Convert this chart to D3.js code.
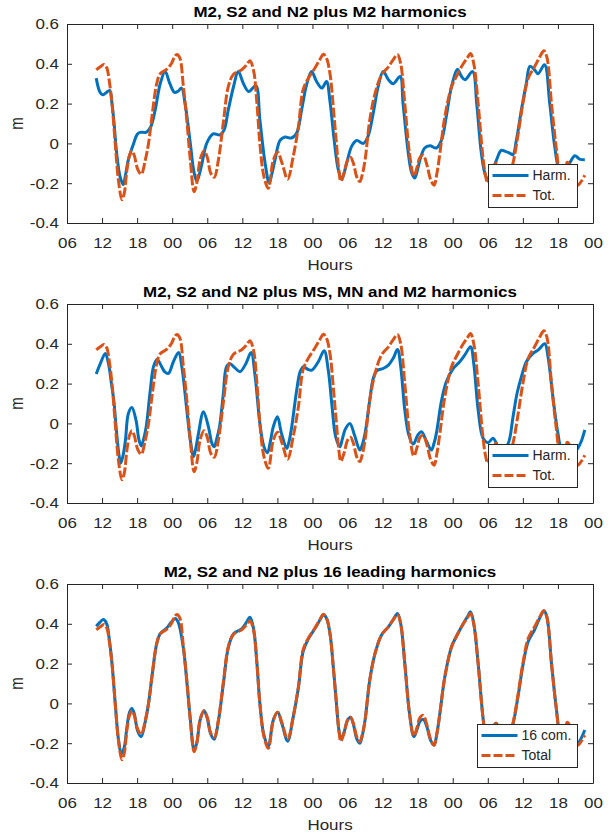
<!DOCTYPE html>
<html>
<head>
<meta charset="utf-8">
<script src="https://cdn.jsdelivr.net/npm/d3@7"></script>
<style>
  body { margin: 0; background: #fff; }
  svg text { font-family: 'Liberation Sans', Arial, Helvetica, sans-serif; fill: #262626; }
  text.title { font-weight: bold; fill: #000; }
</style>
</head>
<body>
<script>
// Hours are counted from 06:00 on the first day shown on the axis.
const startTime = new Date(2000, 0, 1, 6);
const spanHours = 90;
const yTicks = [-0.4, -0.2, 0, 0.2, 0.4, 0.6];

const titles = [
  'M2, S2 and N2 plus M2 harmonics',
  'M2, S2 and N2 plus MS, MN and M2 harmonics',
  'M2, S2 and N2 plus 16 leading harmonics'
];
const harmLabels  = ['Harm.', 'Harm.', '16 com.'];
const totalLabels = ['Tot.', 'Tot.', 'Total'];

// [hour, metres]
const total = [
  [5.0, 0.37], [5.7, 0.385], [6.3, 0.397], [6.8, 0.38], [7.2, 0.32], [7.7, 0.2], [8.25, 0.0],
  [8.8, -0.185], [9.4, -0.283], [9.8, -0.25], [10.25, -0.134], [10.7, -0.06], [11.1, -0.037],
  [11.5, -0.06], [12.1, -0.13], [12.7, -0.155], [13.4, -0.084], [13.95, 0.0], [14.6, 0.15],
  [15.35, 0.30], [15.95, 0.35], [17.1, 0.373], [17.9, 0.403], [18.4, 0.435], [18.8, 0.447],
  [19.3, 0.43], [19.9, 0.29], [20.5, 0.117], [21.1, -0.084], [21.75, -0.243], [22.2, -0.2],
  [22.8, -0.08], [23.45, -0.037], [24.0, -0.07], [24.6, -0.15], [25.2, -0.17], [25.9, -0.084],
  [26.8, 0.117], [27.6, 0.285], [28.5, 0.348], [29.9, 0.37], [30.75, 0.395], [31.3, 0.415],
  [31.9, 0.37], [32.5, 0.2], [33.0, 0.0], [33.7, -0.167], [34.45, -0.226], [35.3, -0.084],
  [36.05, -0.045], [36.8, -0.1], [37.75, -0.18], [38.7, -0.067], [39.6, 0.085], [40.4, 0.27],
  [41.3, 0.328], [42.4, 0.378], [43.3, 0.423], [43.85, 0.448], [44.4, 0.428], [45.0, 0.35],
  [45.6, 0.17], [46.1, 0.0], [46.5, -0.13], [46.85, -0.19], [47.4, -0.15], [48.0, -0.085],
  [48.5, -0.07], [49.0, -0.1], [49.6, -0.17], [50.1, -0.192], [50.5, -0.16], [51.0, -0.084],
  [51.8, 0.117], [52.7, 0.25], [53.8, 0.343], [55.0, 0.385], [55.8, 0.42], [56.55, 0.447],
  [57.1, 0.40], [57.8, 0.2], [58.6, -0.05], [59.35, -0.164], [59.9, -0.12], [60.4, -0.07],
  [60.95, -0.06], [61.6, -0.11], [62.2, -0.18], [62.8, -0.21], [63.3, -0.15], [63.8, -0.05],
  [64.65, 0.134], [65.8, 0.285], [66.6, 0.335], [67.8, 0.40], [68.5, 0.43], [69.05, 0.452],
  [69.6, 0.40], [70.35, 0.2], [71.1, -0.05], [71.6, -0.16], [72.0, -0.2], [72.7, -0.14],
  [73.4, -0.1], [74.2, -0.14], [75.1, -0.2], [75.6, -0.16], [76.3, -0.1], [77.2, 0.05],
  [78.0, 0.2], [78.9, 0.326], [80.0, 0.385], [80.9, 0.435], [81.6, 0.465], [82.1, 0.435],
  [82.9, 0.2], [83.7, -0.02], [84.6, -0.2], [85.6, -0.095], [86.3, -0.13], [87.4, -0.21],
  [87.9, -0.195], [88.6, -0.16]
];

const harmM2 = [
  [5.0, 0.328], [5.6, 0.26], [6.1, 0.244], [6.7, 0.255], [7.3, 0.266], [7.7, 0.2], [8.0, 0.119],
  [8.5, -0.049], [9.1, -0.17], [9.65, -0.207], [10.0, -0.16], [10.5, -0.082], [11.4, 0.0],
  [12.0, 0.045], [12.5, 0.055], [13.6, 0.057], [14.35, 0.085], [15.1, 0.17], [15.95, 0.30],
  [16.8, 0.361], [17.6, 0.30], [18.4, 0.256], [19.0, 0.262], [19.6, 0.278], [20.2, 0.2],
  [21.1, 0.0], [21.7, -0.14], [22.2, -0.19], [22.6, -0.16], [23.1, -0.1], [23.9, 0.0],
  [25.0, 0.048], [26.2, 0.043], [26.9, 0.069], [27.6, 0.169], [28.5, 0.286], [29.3, 0.361],
  [30.2, 0.3], [31.1, 0.261], [32.3, 0.29], [33.0, 0.119], [33.9, -0.1], [34.6, -0.2],
  [35.0, -0.16], [35.6, -0.082], [36.45, 0.015], [37.3, 0.032], [38.4, 0.027], [39.3, 0.052],
  [40.15, 0.169], [41.0, 0.295], [41.85, 0.361], [42.7, 0.311], [43.6, 0.278], [44.4, 0.311],
  [45.0, 0.21], [45.7, 0.02], [46.4, -0.13], [47.0, -0.182], [47.4, -0.15], [47.85, -0.1],
  [48.7, -0.015], [49.55, 0.015], [50.7, 0.0], [51.5, 0.035], [52.4, 0.152], [53.25, 0.286],
  [54.1, 0.361], [55.0, 0.32], [55.8, 0.30], [57.0, 0.336], [57.5, 0.2], [58.4, -0.05],
  [59.0, -0.15], [59.5, -0.174], [60.0, -0.13], [60.4, -0.082], [61.2, -0.023], [62.1, -0.012],
  [63.2, -0.023], [64.1, 0.018], [64.9, 0.136], [65.8, 0.286], [66.8, 0.373], [67.5, 0.336],
  [68.1, 0.32], [69.4, 0.361], [70.1, 0.2], [70.9, -0.05], [71.6, -0.16], [72.3, -0.19],
  [72.8, -0.14], [73.5, -0.082], [74.3, -0.035], [75.0, -0.04], [75.8, -0.05], [76.3, -0.057],
  [76.9, 0.018], [77.75, 0.169], [78.6, 0.303], [79.2, 0.387], [80.0, 0.37], [80.6, 0.35],
  [81.7, 0.395], [82.6, 0.2], [83.45, -0.015], [84.2, -0.13], [85.0, -0.15], [85.8, -0.11],
  [86.9, -0.062], [87.7, -0.079], [88.6, -0.082]
];

const harmMsMn = [
  [5.0, 0.248], [5.7, 0.30], [6.55, 0.351], [7.1, 0.30], [7.6, 0.2], [8.0, 0.117], [8.5, -0.05],
  [8.9, -0.16], [9.2, -0.2], [9.6, -0.16], [10.0, -0.084], [10.5, 0.05], [11.1, 0.08],
  [11.8, 0.017], [12.3, -0.08], [12.7, -0.114], [13.1, -0.08], [13.55, -0.017], [14.25, 0.167],
  [14.8, 0.285], [15.4, 0.321], [16.2, 0.285], [16.7, 0.26], [17.35, 0.251], [18.2, 0.31],
  [19.1, 0.356], [19.65, 0.285], [20.5, 0.067], [21.1, -0.084], [21.65, -0.167], [22.0, -0.13],
  [22.5, -0.05], [23.35, 0.059], [24.2, -0.017], [24.8, -0.1], [25.2, -0.117], [25.6, -0.08],
  [26.1, -0.017], [26.75, 0.15], [27.3, 0.285], [27.9, 0.30], [28.7, 0.28], [29.6, 0.26],
  [30.6, 0.3], [31.5, 0.356], [32.2, 0.234], [33.0, 0.0], [33.7, -0.117], [34.3, -0.147],
  [34.8, -0.09], [35.3, -0.017], [36.0, 0.033], [36.7, -0.05], [37.6, -0.126], [38.0, -0.09],
  [38.45, -0.017], [39.3, 0.167], [39.9, 0.26], [40.45, 0.285], [41.2, 0.272], [41.9, 0.268],
  [43.0, 0.31], [44.0, 0.365], [44.7, 0.268], [45.3, 0.1], [45.85, -0.05], [46.2, -0.09],
  [46.7, -0.117], [47.1, -0.08], [47.6, -0.03], [48.4, 0.0], [49.2, -0.06], [50.1, -0.134],
  [50.5, -0.11], [51.0, -0.05], [51.8, 0.117], [52.4, 0.226], [53.0, 0.264], [54.1, 0.276],
  [55.0, 0.293], [55.8, 0.326], [56.55, 0.371], [57.1, 0.285], [57.8, 0.067], [58.5, -0.06],
  [59.25, -0.104], [60.0, -0.06], [60.65, -0.042], [61.5, -0.09], [62.35, -0.134], [62.8, -0.1],
  [63.2, -0.05], [64.1, 0.117], [64.9, 0.209], [66.1, 0.276], [67.2, 0.31], [68.05, 0.343],
  [69.05, 0.385], [69.6, 0.30], [70.35, 0.067], [71.2, -0.075], [72.05, -0.097], [72.9, -0.075],
  [73.8, -0.117], [74.6, -0.13], [75.5, -0.1], [76.3, 0.03], [77.0, 0.15], [77.8, 0.24],
  [78.6, 0.31], [79.7, 0.351], [80.6, 0.368], [81.75, 0.40], [82.3, 0.335], [83.2, 0.117],
  [84.0, -0.05], [84.6, -0.13], [85.5, -0.155], [86.5, -0.15], [87.4, -0.125], [88.0, -0.09],
  [88.6, -0.033]
];

const harm16 = [
  [5.0, 0.388], [5.7, 0.41], [6.25, 0.422], [6.8, 0.40], [7.2, 0.33], [7.7, 0.2], [8.25, 0.0],
  [8.8, -0.18], [9.3, -0.254], [9.8, -0.22], [10.25, -0.12], [10.7, -0.045], [11.1, -0.025],
  [11.5, -0.05], [12.1, -0.14], [12.7, -0.167], [13.4, -0.09], [13.95, 0.0], [14.6, 0.15],
  [15.35, 0.30], [15.95, 0.35], [17.1, 0.38], [17.9, 0.41], [18.5, 0.427], [19.0, 0.41],
  [19.9, 0.28], [20.5, 0.11], [21.1, -0.08], [21.75, -0.234], [22.2, -0.2], [22.8, -0.08],
  [23.45, -0.037], [24.0, -0.075], [24.6, -0.155], [25.2, -0.18], [25.9, -0.09], [26.8, 0.11],
  [27.6, 0.28], [28.5, 0.35], [29.9, 0.375], [30.75, 0.41], [31.3, 0.433], [31.9, 0.38],
  [32.5, 0.2], [33.0, 0.0], [33.7, -0.16], [34.45, -0.214], [35.3, -0.084], [36.05, -0.045],
  [36.8, -0.105], [37.75, -0.19], [38.7, -0.07], [39.6, 0.08], [40.4, 0.26], [41.3, 0.325],
  [42.4, 0.375], [43.3, 0.42], [43.85, 0.445], [44.4, 0.428], [45.0, 0.35], [45.6, 0.17],
  [46.1, 0.0], [46.5, -0.13], [46.85, -0.18], [47.4, -0.145], [48.0, -0.085], [48.5, -0.07],
  [49.0, -0.105], [49.6, -0.18], [50.1, -0.2], [50.5, -0.165], [51.0, -0.084], [51.8, 0.117],
  [52.7, 0.25], [53.8, 0.343], [55.0, 0.385], [55.8, 0.42], [56.55, 0.452], [57.1, 0.40],
  [57.8, 0.2], [58.6, -0.05], [59.35, -0.167], [59.9, -0.13], [60.4, -0.09], [60.95, -0.08],
  [61.6, -0.12], [62.2, -0.185], [62.8, -0.21], [63.3, -0.15], [63.8, -0.05], [64.65, 0.134],
  [65.8, 0.285], [66.6, 0.335], [67.8, 0.40], [68.5, 0.435], [69.05, 0.46], [69.6, 0.40],
  [70.35, 0.2], [71.1, -0.05], [71.6, -0.16], [72.0, -0.19], [72.7, -0.13], [73.4, -0.1],
  [74.2, -0.14], [75.1, -0.2], [75.6, -0.16], [76.3, -0.105], [77.2, 0.04], [78.0, 0.19],
  [78.9, 0.31], [80.0, 0.37], [80.9, 0.43], [81.6, 0.465], [82.1, 0.435], [82.9, 0.2],
  [83.7, -0.02], [84.6, -0.2], [85.6, -0.1], [86.3, -0.13], [87.4, -0.2], [87.9, -0.18],
  [88.6, -0.134]
];

const harmSeries = [harmM2, harmMsMn, harm16];

(function () {

  let width  = 613;
  let height = 837;

  // axes box, same for each of the three panels
  let left   = 67;
  let right  = 593;
  let tops   = [24, 304, 584];
  let boxH   = 199;
  let stretchK = 1.13;

  let blue   = '#0072BD';
  let orange = '#D95319';
  let axisColor = '#262626';
  let lineW  = 3;
  let dash   = '10,2.5';

  let svg = d3.select('body').append('svg')
      .attr('width', width)
      .attr('height', height);

  let x = d3.scaleTime()
      .domain([startTime, d3.timeHour.offset(startTime, spanHours)])
      .range([0, right - left]);

  let y = d3.scaleLinear()
      .domain([d3.min(yTicks), d3.max(yTicks)])
      .range([boxH, 0]);

  function hourDate(h) { return new Date(+startTime + h * 3600e3); }

  let line = d3.line()
      .x(d => x(hourDate(d[0])))
      .y(d => y(d[1]))
      .curve(d3.curveCatmullRom.alpha(0.5));

  // MATLAB screenshot text is a bit wider than the browser font, so stretch it
  function stretch(sel) {
    sel.each(function () {
      let w = this.getComputedTextLength();
      d3.select(this).attr('textLength', w * stretchK).attr('lengthAdjust', 'spacingAndGlyphs');
    });
  }

  function addLegend(g, harmLabel, totLabel) {
    let leg = g.append('g');
    let box = leg.append('rect')
        .attr('fill', '#fff')
        .attr('stroke', axisColor)
        .attr('stroke-width', 1);

    let rows = [
      { label: harmLabel, color: blue,   dash: null },
      { label: totLabel,  color: orange, dash: '9,3' }
    ];
    let texts = [];
    rows.forEach((r, i) => {
      let ly = 11.5 + i * 20;
      leg.append('line')
        .attr('x1', 4.5).attr('x2', 40.5)
        .attr('y1', ly).attr('y2', ly)
        .attr('stroke', r.color)
        .attr('stroke-width', lineW)
        .attr('stroke-dasharray', r.dash);
      texts.push(leg.append('text')
        .attr('x', 44.5)
        .attr('y', ly)
        .attr('dy', '0.35em')
        .style('font-size', '14px')
        .text(r.label));
    });

    let tw = d3.max(texts, t => t.node().getComputedTextLength());
    let bw = Math.round(44.5 + tw + 6);
    box.attr('x', 0.5).attr('y', 0.5).attr('width', bw).attr('height', 43);
    leg.attr('transform', 'translate(' + (right - left - 16 - bw) + ',140)');
  }

  function panel(i) {
    let g = svg.append('g')
        .attr('transform', 'translate(' + left + ',' + tops[i] + ')');

    g.append('rect')
      .attr('width', right - left)
      .attr('height', boxH)
      .attr('fill', '#fff');

    // axes, ticks pointing inwards on all four sides
    let bottom = g.append('g')
        .attr('transform', 'translate(0,' + boxH + ')')
        .attr('color', axisColor)
        .call(d3.axisBottom(x).ticks(d3.timeHour.every(6)).tickFormat(d3.timeFormat('%H'))
              .tickSizeInner(-5).tickSizeOuter(0).tickPadding(14));

    let leftAx = g.append('g')
        .attr('color', axisColor)
        .call(d3.axisLeft(y).tickValues(yTicks).tickFormat(d => String(d))
              .tickSizeInner(-5).tickSizeOuter(0).tickPadding(8));

    g.append('g')
      .attr('color', axisColor)
      .call(d3.axisTop(x).ticks(d3.timeHour.every(6)).tickFormat('')
            .tickSizeInner(-5).tickSizeOuter(0));

    g.append('g')
      .attr('transform', 'translate(' + (right - left) + ',0)')
      .attr('color', axisColor)
      .call(d3.axisRight(y).tickValues(yTicks).tickFormat('')
            .tickSizeInner(-5).tickSizeOuter(0));

    g.selectAll('.tick text')
      .style('font-size', '15px')
      .attr('fill', axisColor);
    bottom.selectAll('.tick text').attr('dy', '0.71em');
    stretch(bottom.selectAll('.tick text'));
    stretch(leftAx.selectAll('.tick text'));

    // series: harmonics first, total dashed on top
    g.append('path')
      .datum(harmSeries[i])
      .attr('fill', 'none')
      .attr('stroke', blue)
      .attr('stroke-width', lineW)
      .attr('stroke-linejoin', 'round')
      .attr('d', line);

    g.append('path')
      .datum(total)
      .attr('fill', 'none')
      .attr('stroke', orange)
      .attr('stroke-width', lineW)
      .attr('stroke-dasharray', dash)
      .attr('d', line);

    addLegend(g, harmLabels[i], totalLabels[i]);

    let mid = (right - left) / 2;

    stretch(g.append('text')
      .attr('class', 'title')
      .attr('x', mid)
      .attr('y', -7.5)
      .attr('text-anchor', 'middle')
      .style('font-size', '15px')
      .text(titles[i]));

    stretch(g.append('text')
      .attr('x', mid)
      .attr('y', boxH + 46.5)
      .attr('text-anchor', 'middle')
      .style('font-size', '15px')
      .text('Hours'));

    g.append('text')
      .attr('transform', 'translate(' + (22.5 - left) + ',' + (boxH / 2) + ') scale(1.25,1) rotate(-90)')
      .attr('text-anchor', 'middle')
      .style('font-size', '15px')
      .text('m');
  }

  [0, 1, 2].forEach(panel);

})();
</script>
</body>
</html>
